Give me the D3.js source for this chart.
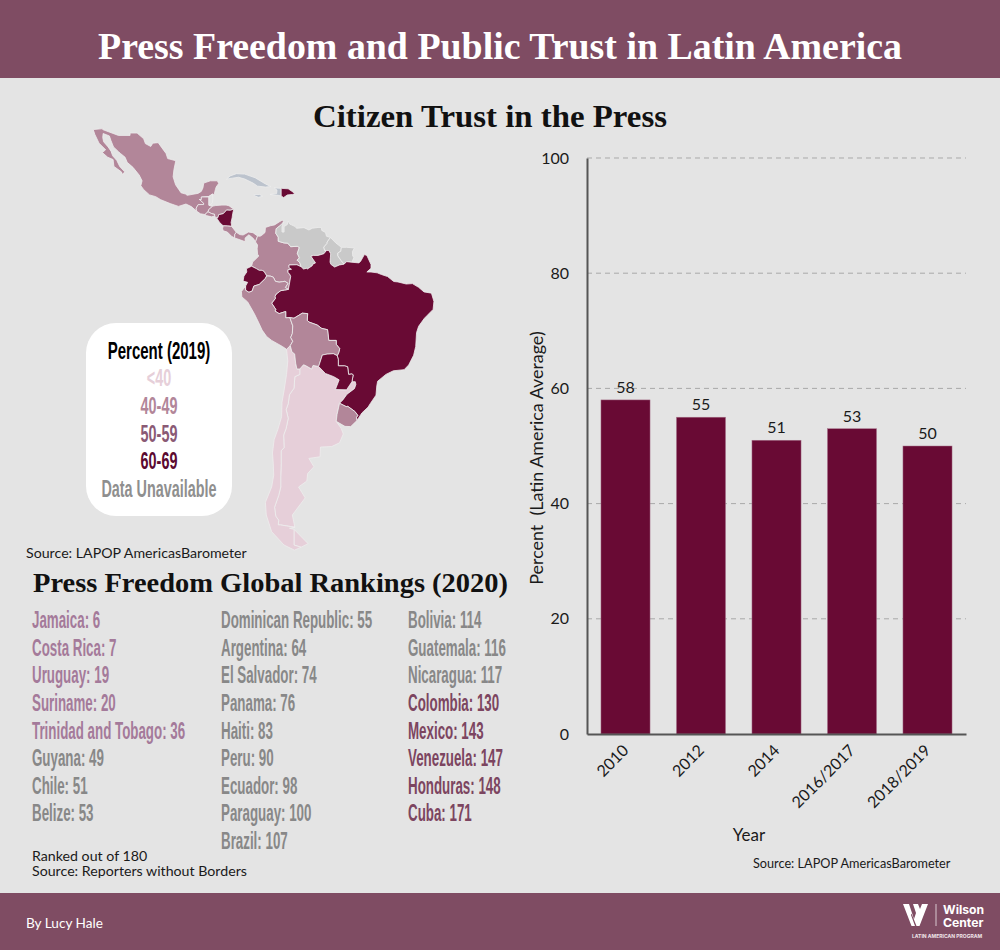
<!DOCTYPE html>
<html>
<head>
<meta charset="utf-8">
<script src="https://cdnjs.cloudflare.com/ajax/libs/d3/7.8.5/d3.min.js"></script>
<style>
  body { margin: 0; background: #e4e4e4; }
  svg { display: block; }
  text { font-family: Lato, sans-serif; fill: #1a1a1a; white-space: pre; }
  .serif { font-family: "Liberation Serif", serif; font-weight: 700; }
  .cond { font-family: "Liberation Sans", sans-serif; font-weight: 700; }
  .axis text { font-family: Lato, sans-serif; font-size: 16px; fill: #1a1a1a; }
</style>
</head>
<body>
<div id="chart"></div>
<script>
// bar chart values
const years = ["2010", "2012", "2014", "2016/2017", "2018/2019"];
const trust = [58, 55, 51, 53, 50];
const yTicks = [0, 20, 40, 60, 80, 100];

// press freedom rankings, one list per column
const rankNames1 = ["Jamaica", "Costa Rica", "Uruguay", "Suriname", "Trinidad and Tobago", "Guyana", "Chile", "Belize"];
const rankValues1 = [6, 7, 19, 20, 36, 49, 51, 53];
const rankNames2 = ["Dominican Republic", "Argentina", "El Salvador", "Panama", "Haiti", "Peru", "Ecuador", "Paraguay", "Brazil"];
const rankValues2 = [55, 64, 74, 76, 83, 90, 98, 100, 107];
const rankNames3 = ["Bolivia", "Guatemala", "Nicaragua", "Colombia", "Mexico", "Venezuela", "Honduras", "Cuba"];
const rankValues3 = [114, 116, 117, 130, 143, 147, 148, 171];

// legend
const legendLabels = ["<40", "40-49", "50-59", "60-69", "Data Unavailable"];

// country outlines, lon/lat
const mexico = [[-117.1,32.5],[-114.7,32.7],[-114.8,32.5],[-111,31.3],[-108.2,31.3],[-108.2,31.8],[-106.5,31.8],[-104.9,30.6],[-104.5,29.6],[-103.2,29],[-102.7,29.7],[-101.4,29.8],[-100.5,28.7],[-99.5,27.5],[-99.1,26.4],[-97.15,25.95],[-97.6,24],[-97.8,22.4],[-97.2,20.6],[-96.4,19.5],[-95.9,18.8],[-94.8,18.5],[-94.4,18.2],[-93,18.45],[-91.8,18.65],[-91,19.1],[-90.6,19.9],[-90.4,21],[-88.8,21.5],[-87.1,21.5],[-86.8,20.9],[-87.4,20.1],[-87.6,19.5],[-87.9,18.3],[-88.3,18.5],[-89.15,17.95],[-90.98,17.82],[-90.98,17.25],[-91.45,17.25],[-90.43,16.4],[-90.43,16.08],[-91.73,16.07],[-92.23,15.25],[-92.15,14.55],[-93.4,15.6],[-94.7,16.2],[-96.5,15.65],[-98.5,16.3],[-100.8,17.2],[-102,17.9],[-103.5,18.3],[-104.9,19.5],[-105.6,20.4],[-105.3,21.5],[-106,22.8],[-107.5,24.5],[-108.9,25.6],[-109.4,26.7],[-110.5,27.5],[-111,27.9],[-112.2,28.9],[-112.8,30.2],[-113.2,31.2],[-114.7,31.7],[-114.8,30.9],[-114.6,30],[-113.5,28.9],[-112.8,28],[-112.4,27],[-111.4,26],[-110.7,24.7],[-109.5,23.5],[-110,22.9],[-110.3,23.5],[-112.1,24.7],[-112.3,26.2],[-113.6,26.7],[-114.9,27.7],[-114.1,28.3],[-115.7,29.7],[-116.7,31.5]];
const guatemala = [[-92.15,14.55],[-92.23,15.25],[-91.73,16.07],[-90.43,16.08],[-90.43,16.4],[-91.45,17.25],[-90.98,17.25],[-90.98,17.82],[-89.15,17.82],[-89.15,15.9],[-88.6,15.7],[-88.2,15.72],[-89.2,14.9],[-89.35,14.42],[-89.6,14.2],[-90.1,13.75],[-91.2,13.92]];
const belize = [[-89.15,17.95],[-88.3,18.5],[-88.2,17.5],[-88.3,16.5],[-88.9,15.9],[-89.15,15.9]];
const elSalvador = [[-90.1,13.75],[-89.6,14.2],[-89.35,14.42],[-88.8,14.15],[-88.5,13.98],[-87.8,13.85],[-87.75,13.4],[-88.5,13.2],[-89.8,13.5]];
const honduras = [[-89.35,14.42],[-89.2,14.9],[-88.2,15.72],[-87.5,15.85],[-86,15.95],[-85,15.95],[-84.3,15.8],[-83.15,15],[-84,14.75],[-84.9,14.8],[-85.1,14.55],[-85.7,13.95],[-86.5,13.78],[-86.75,13.75],[-87,13],[-87.5,13],[-87.75,13.4],[-87.8,13.85],[-88.5,13.98],[-88.8,14.15]];
const nicaragua = [[-87.3,12.95],[-87,13],[-86.75,13.75],[-86.5,13.78],[-85.7,13.95],[-85.1,14.55],[-84.9,14.8],[-84,14.75],[-83.15,15],[-83.4,14],[-83.55,13],[-83.8,11.9],[-83.65,10.95],[-84.7,11.05],[-85.7,11.08],[-86.5,11.8]];
const costaRica = [[-85.7,11.08],[-84.7,11.05],[-83.65,10.95],[-82.55,9.55],[-82.9,9.05],[-82.95,8.2],[-83.7,8.6],[-84.7,9.6],[-85.7,9.9],[-85.85,10.4]];
const panama = [[-82.55,9.55],[-81.7,9],[-80.9,8.9],[-79.6,9.6],[-78.5,9.45],[-77.4,8.65],[-77.9,7.25],[-78.4,8.05],[-79.5,8.95],[-80.4,8.2],[-80.4,7.3],[-81.5,7.7],[-82.95,8.2],[-82.9,9.05]];
const colombia = [[-77.4,8.65],[-76.8,8.6],[-76.3,8.9],[-75.6,9.5],[-75.5,10.7],[-74.3,11.1],[-73.3,11.3],[-72.2,12],[-71.4,12.45],[-71.1,12],[-71.3,11.75],[-72,11.1],[-72.9,10.4],[-73,9.3],[-72.4,8.4],[-72.4,7.4],[-71,7],[-70.1,6.95],[-69.4,6.1],[-67.8,6.2],[-67.3,5.9],[-67.8,4.5],[-67.3,3.4],[-67.85,2.85],[-67.2,2.25],[-66.87,1.25],[-67.9,1.75],[-69.8,1.7],[-69.8,1.05],[-69.2,0.65],[-70.05,0.55],[-70.05,-0.15],[-69.6,-0.55],[-69.4,-1.1],[-69.95,-4.2],[-70.7,-3.75],[-70.05,-2.75],[-70.8,-2.25],[-71.4,-2.35],[-72.2,-2.45],[-73.1,-2.25],[-73.6,-1.25],[-74.3,-1],[-75.2,-0.95],[-75.8,0.08],[-76.3,0.4],[-77,0.4],[-77.7,0.82],[-78.85,1.4],[-78.6,2.4],[-77.1,3.85],[-77.4,4.3],[-77.5,5.6],[-77.4,6.5],[-77.9,7.25]];
const venezuela = [[-71.1,12],[-71.3,11.75],[-72,11.1],[-72.9,10.4],[-73,9.3],[-72.4,8.4],[-72.4,7.4],[-71,7],[-70.1,6.95],[-69.4,6.1],[-67.8,6.2],[-67.3,5.9],[-67.8,4.5],[-67.3,3.4],[-67.85,2.85],[-67.2,2.25],[-66.87,1.25],[-66.3,0.72],[-65.55,0.9],[-65.4,0.7],[-64.2,1.5],[-64.05,1.9],[-63.4,2.2],[-64.5,3.8],[-63.9,4],[-62.8,4],[-61.4,4.4],[-60.75,5.2],[-61.2,5.2],[-61.4,6],[-60.6,6.9],[-60.6,7.2],[-59.8,8.3],[-60.75,8.6],[-61,9.5],[-61.9,10],[-62,10.7],[-62.8,10.7],[-64.2,10.5],[-65,10.1],[-66.2,10.65],[-68,10.5],[-68.3,10.9],[-69.6,11.5],[-70,12.2],[-70.2,11.4],[-71,10.9],[-71,9.6],[-71.5,9.6],[-71.5,11]];
const guyana = [[-60.75,5.2],[-61.2,5.2],[-61.4,6],[-60.6,6.9],[-60.6,7.2],[-59.8,8.3],[-58.5,7],[-57.15,5.95],[-57.3,5],[-58,4.6],[-58,3.9],[-57.25,2.8],[-56.5,1.9],[-57.6,1.7],[-58.8,1.2],[-59.7,1.85],[-59.9,2.4],[-59.8,3.6],[-59.75,4.4],[-60.2,5.2]];
const suriname = [[-57.15,5.95],[-55.9,5.95],[-54,5.8],[-54.5,4.9],[-54.4,3.8],[-54.1,3.6],[-54.6,2.35],[-55.9,2.5],[-56.5,1.9],[-57.25,2.8],[-58,3.9],[-58,4.6],[-57.3,5]];
const brazil = [[-54.6,2.35],[-52.9,2.2],[-52.5,2.6],[-51.6,4.2],[-51,4],[-50,1.8],[-50,0.9],[-51,0],[-50,0],[-48.5,-0.2],[-47.5,-0.6],[-46,-1.1],[-44.5,-2.3],[-43.5,-2.4],[-41.5,-2.9],[-40,-2.8],[-38.5,-3.7],[-37.2,-4.8],[-35.4,-5.1],[-34.8,-7.1],[-35,-9],[-36.5,-10.5],[-37.1,-11.1],[-38.5,-13],[-39,-14.5],[-39.2,-17.7],[-39.7,-19.7],[-40.9,-21.9],[-42,-22.95],[-44.6,-23.2],[-46.4,-24],[-48.4,-25.5],[-48.6,-26.5],[-48.8,-28.5],[-50.2,-30.3],[-50.7,-31],[-52.2,-32.2],[-53.4,-33.75],[-53.5,-33.1],[-53.2,-32.7],[-53.9,-31.9],[-55.6,-30.85],[-56,-30.9],[-57.6,-30.2],[-56.8,-29.5],[-55.8,-28.3],[-54,-27.1],[-53.65,-26.2],[-53.8,-25.6],[-54.6,-25.6],[-54.3,-24.1],[-54.6,-23.9],[-55.4,-24],[-55.65,-22.3],[-56.4,-22.1],[-57.9,-22.1],[-57.9,-20.7],[-58.15,-19.8],[-57.8,-19.1],[-57.55,-18.2],[-58.4,-17.2],[-58.4,-16.3],[-60.2,-16.3],[-60.5,-13.8],[-61.9,-13.5],[-63,-12.7],[-65,-12],[-65.4,-11.6],[-65.3,-10],[-66.6,-9.9],[-68.6,-11.1],[-69.6,-10.95],[-70.6,-11],[-70.6,-9.5],[-72.2,-10],[-73.2,-9.4],[-73,-9],[-74,-7.5],[-73.1,-6.4],[-73.2,-5.9],[-72.9,-5.3],[-71.8,-4.5],[-70.9,-4.35],[-69.95,-4.2],[-69.4,-1.1],[-69.6,-0.55],[-70.05,-0.15],[-70.05,0.55],[-69.2,0.65],[-69.8,1.05],[-69.8,1.7],[-67.9,1.75],[-66.87,1.25],[-66.3,0.72],[-65.55,0.9],[-65.4,0.7],[-64.2,1.5],[-64.05,1.9],[-63.4,2.2],[-64.5,3.8],[-63.9,4],[-62.8,4],[-61.4,4.4],[-60.75,5.2],[-60.2,5.2],[-59.75,4.4],[-59.8,3.6],[-59.9,2.4],[-59.7,1.85],[-58.8,1.2],[-57.6,1.7],[-56.5,1.9],[-55.9,2.5]];
const ecuador = [[-78.85,1.4],[-77.7,0.82],[-77,0.4],[-76.3,0.4],[-75.8,0.08],[-75.2,-0.95],[-75.5,-1.55],[-77,-3],[-78.3,-3.4],[-78.7,-4.6],[-79.5,-4.9],[-80.3,-4.4],[-80.3,-3.4],[-79.8,-2.5],[-80.9,-2.2],[-80.7,-1],[-80,0],[-80.1,0.8]];
const peru = [[-75.2,-0.95],[-74.3,-1],[-73.6,-1.25],[-73.1,-2.25],[-72.2,-2.45],[-71.4,-2.35],[-70.8,-2.25],[-70.05,-2.75],[-70.7,-3.75],[-69.95,-4.2],[-70.9,-4.35],[-71.8,-4.5],[-72.9,-5.3],[-73.2,-5.9],[-73.1,-6.4],[-74,-7.5],[-73,-9],[-73.2,-9.4],[-72.2,-10],[-70.6,-9.5],[-70.6,-11],[-69.6,-10.95],[-68.9,-12.9],[-69,-14.7],[-69.4,-15.6],[-68.9,-16.5],[-69.5,-17.5],[-70.4,-18.35],[-71.4,-17.7],[-74,-16.3],[-75.2,-15.4],[-76.3,-13.9],[-77.2,-12],[-78.2,-10],[-79.8,-7.2],[-81.2,-6],[-81.3,-4.7],[-80.3,-3.4],[-80.3,-4.4],[-79.5,-4.9],[-78.7,-4.6],[-78.3,-3.4],[-77,-3],[-75.5,-1.55]];
const bolivia = [[-69.6,-10.95],[-68.6,-11.1],[-66.6,-9.9],[-65.3,-10],[-65.4,-11.6],[-65,-12],[-63,-12.7],[-61.9,-13.5],[-60.5,-13.8],[-60.2,-16.3],[-58.4,-16.3],[-58.4,-17.2],[-57.55,-18.2],[-57.8,-19.1],[-58.15,-19.8],[-59.1,-19.35],[-60.6,-19.45],[-61.75,-19.65],[-62.65,-22.25],[-64,-22],[-64.35,-22.8],[-65.7,-22.1],[-66.3,-21.85],[-67.2,-22.8],[-67.9,-22.8],[-68.2,-21.5],[-68.45,-19.4],[-69.1,-18.95],[-69.5,-17.5],[-68.9,-16.5],[-69.4,-15.6],[-69,-14.7],[-68.9,-12.9]];
const paraguay = [[-54.6,-25.6],[-55.9,-27.35],[-58.6,-27.3],[-57.7,-25.2],[-59,-24.5],[-61,-23.8],[-62.65,-22.25],[-61.75,-19.65],[-60.6,-19.45],[-59.1,-19.35],[-58.15,-19.8],[-57.9,-20.7],[-57.9,-22.1],[-56.4,-22.1],[-55.65,-22.3],[-55.4,-24],[-54.6,-23.9],[-54.3,-24.1]];
const uruguay = [[-57.6,-30.2],[-56,-30.9],[-55.6,-30.85],[-53.9,-31.9],[-53.2,-32.7],[-53.5,-33.1],[-53.4,-33.75],[-54.9,-34.95],[-56.3,-34.9],[-58.4,-33.9],[-58.2,-32.5]];
const chile = [[-70.4,-18.35],[-69.5,-17.5],[-69.1,-18.95],[-68.45,-19.4],[-68.2,-21.5],[-67.9,-22.8],[-67.2,-22.8],[-67.2,-24],[-68.4,-24.5],[-68.6,-27],[-69.7,-28.4],[-70,-30.3],[-70.5,-31.5],[-70,-33.3],[-70.5,-35.3],[-71.1,-36.6],[-71,-39],[-71.7,-39.6],[-71.7,-42],[-71.8,-44],[-71.8,-46],[-72.3,-47.4],[-73.3,-49.3],[-73,-50.7],[-72.3,-51.3],[-72.4,-52],[-71.9,-52],[-68.4,-52.35],[-69.7,-52.5],[-68.6,-52.65],[-68.6,-54.9],[-66.9,-55.2],[-68.5,-55.6],[-71,-54.9],[-74,-53],[-75.3,-50.5],[-75.5,-48.5],[-74,-46],[-73.5,-44],[-73.6,-42],[-73.8,-40],[-73.4,-37.5],[-72.5,-35.5],[-71.6,-33],[-71.5,-30],[-71,-27.5],[-70.4,-24],[-70.1,-21]];
const argentina = [[-67.2,-22.8],[-66.3,-21.85],[-65.7,-22.1],[-64.35,-22.8],[-64,-22],[-62.65,-22.25],[-61,-23.8],[-59,-24.5],[-57.7,-25.2],[-58.6,-27.3],[-55.9,-27.35],[-54.6,-25.6],[-53.8,-25.6],[-53.65,-26.2],[-54,-27.1],[-55.8,-28.3],[-56.8,-29.5],[-57.6,-30.2],[-58.2,-32.5],[-58.4,-33.9],[-57.2,-35.3],[-56.7,-36.4],[-57.6,-38.1],[-59.5,-38.8],[-62.2,-38.9],[-62.3,-40.7],[-65,-41],[-63.8,-42.5],[-65.3,-43.7],[-65.5,-45],[-67.5,-46],[-65.9,-47.8],[-69,-50.5],[-68.4,-52.35],[-71.9,-52],[-72.4,-52],[-72.3,-51.3],[-73,-50.7],[-73.3,-49.3],[-72.3,-47.4],[-71.8,-46],[-71.8,-44],[-71.7,-42],[-71.7,-39.6],[-71,-39],[-71.1,-36.6],[-70.5,-35.3],[-70,-33.3],[-70.5,-31.5],[-70,-30.3],[-69.7,-28.4],[-68.6,-27],[-68.4,-24.5],[-67.2,-24]];
const tierraDelFuego = [[-68.6,-52.65],[-65.2,-54.7],[-66.9,-55.2],[-68.6,-54.9]];
const cuba = [[-84.9,21.9],[-84,22.6],[-82.5,23.1],[-80.5,23],[-78,22.2],[-75.5,20.8],[-74.2,20.2],[-75.5,20.1],[-77.4,20.3],[-78.5,21],[-80.5,21.9],[-82,22.3],[-83.5,22.1]];
const jamaica = [[-78.3,18.4],[-76.9,18.4],[-76.2,18],[-77.2,17.75],[-78.3,18.2]];
const haiti = [[-73.4,19.9],[-71.7,19.8],[-71.7,18.05],[-72.4,18.2],[-74.4,18.4],[-72.8,18.6],[-72.7,19.4]];
const dominican = [[-71.7,19.8],[-70,19.7],[-69.3,19.25],[-68.35,18.6],[-69,18.4],[-70.2,18.3],[-71.1,17.7],[-71.7,18.05]];

const countryOutlines = [argentina, tierraDelFuego, chile, mexico, guatemala, belize, elSalvador, honduras, nicaragua, costaRica, panama, colombia, venezuela, guyana, suriname, brazil, ecuador, peru, bolivia, paraguay, uruguay, cuba, jamaica, haiti, dominican];
const countryBands = ["lt40", "lt40", "lt40", "b40", "b40", "none", "b40", "b40", "b60", "b40", "b40", "b40", "na", "na", "na", "b60", "b60", "b40", "b40", "b60", "b40", "island", "island", "island", "b60"];

const mapColor = { lt40: "#e6cfd9", b40: "#b28699", b60: "#690a34", na: "#c9c9c9", none: "#e4e4e4", island: "#bcc3cd" };
const legendColors = ["#e6cfd9", "#b28699", "#8a5a75", "#5c0a30", "#8f8f8f"];
const rankColors = { light: "#a47a9a", gray: "#888888", dark: "#7c4560" };
const plum = "#7f4c63";
const barColor = "#690a34";

const svg = d3.select("#chart").append("svg")
    .attr("width", 1000)
    .attr("height", 950);

svg.append("rect").attr("width", 1000).attr("height", 950).attr("fill", "#e4e4e4");
svg.append("rect").attr("width", 1000).attr("height", 78).attr("fill", plum);
svg.append("rect").attr("y", 893).attr("width", 1000).attr("height", 57).attr("fill", plum);

svg.append("text").attr("class", "serif")
    .attr("x", 98).attr("y", 59)
    .attr("textLength", 804).attr("lengthAdjust", "spacingAndGlyphs")
    .style("font-size", "38px").style("fill", "#fff")
    .text("Press Freedom and Public Trust in Latin America");

svg.append("text").attr("class", "serif")
    .attr("x", 313).attr("y", 127)
    .attr("textLength", 354).attr("lengthAdjust", "spacingAndGlyphs")
    .style("font-size", "32px").style("fill", "#111")
    .text("Citizen Trust in the Press");

svg.append("text").attr("class", "serif")
    .attr("x", 33).attr("y", 592)
    .attr("textLength", 475).attr("lengthAdjust", "spacingAndGlyphs")
    .style("font-size", "27px").style("fill", "#111")
    .text("Press Freedom Global Rankings (2020)");

// map
const projection = d3.geoMercator().scale(237.2).translate([578, 272]);
const outline = d3.line().x(d => projection(d)[0]).y(d => projection(d)[1]);

svg.append("g").selectAll("path")
    .data(countryOutlines)
    .join("path")
    .attr("d", d => outline(d) + "Z")
    .attr("fill", (d, i) => mapColor[countryBands[i]])
    .attr("stroke", "#eeeeee")
    .attr("stroke-width", 0.8)
    .attr("stroke-linejoin", "round");

// legend box
svg.append("rect")
    .attr("x", 86).attr("y", 323)
    .attr("width", 146).attr("height", 193)
    .attr("rx", 30)
    .attr("fill", "#fff");

// no condensed face installed, so squeeze the sans horizontally
function condText(x, y, size, squeeze, color, str, anchor) {
    return svg.append("text").attr("class", "cond")
        .attr("transform", `translate(${x},${y}) scale(${squeeze},1)`)
        .attr("text-anchor", anchor || "start")
        .style("font-size", size + "px")
        .style("fill", color)
        .text(str);
}

condText(159, 359, 24, 0.625, "#000", "Percent (2019)", "middle");
const legendY = d3.scalePoint().domain(legendLabels).range([386, 497]);
legendLabels.forEach((label, i) => condText(159, legendY(label), 24, 0.6, legendColors[i], label, "middle"));

svg.append("text").attr("x", 26).attr("y", 558).style("font-size", "14.2px").text("Source: LAPOP AmericasBarometer");

// rankings
const rowY = d3.scaleLinear().domain([0, 8]).range([628, 849]);
function rankColumn(names, values, x, colorFor) {
    names.forEach((name, i) => condText(x, rowY(i), 23, 0.58, colorFor(i), `${name}: ${values[i]}`));
}
rankColumn(rankNames1, rankValues1, 32, i => i < 5 ? rankColors.light : rankColors.gray);
rankColumn(rankNames2, rankValues2, 221, () => rankColors.gray);
rankColumn(rankNames3, rankValues3, 408, i => i < 3 ? rankColors.gray : rankColors.dark);

svg.append("text").attr("x", 32).attr("y", 861).style("font-size", "14.2px").text("Ranked out of 180");
svg.append("text").attr("x", 32).attr("y", 875.5).style("font-size", "14.2px").text("Source: Reporters without Borders");

// bar chart
const x = d3.scaleBand().domain(years).range([587, 966]).paddingInner(0.35).paddingOuter(0.185);
const y = d3.scaleLinear().domain([0, 100]).range([734, 158]);

svg.append("g").selectAll("line")
    .data(yTicks.filter(d => d > 0))
    .join("line")
    .attr("x1", 587).attr("x2", 966)
    .attr("y1", d => y(d)).attr("y2", d => y(d))
    .attr("stroke", "#a9a9a9")
    .attr("stroke-dasharray", "5,4");

svg.append("g").selectAll("rect")
    .data(years)
    .join("rect")
    .attr("x", d => x(d))
    .attr("y", (d, i) => y(trust[i]))
    .attr("width", x.bandwidth())
    .attr("height", (d, i) => y(0) - y(trust[i]))
    .attr("fill", barColor)
    .attr("stroke", "#a8758d")
    .attr("stroke-width", 0.5);

svg.append("g").selectAll("text")
    .data(years)
    .join("text")
    .attr("x", d => x(d) + x.bandwidth() / 2)
    .attr("y", (d, i) => y(trust[i]) - 7)
    .attr("text-anchor", "middle")
    .style("font-size", "16px")
    .text((d, i) => trust[i]);

const yAxis = svg.append("g").attr("class", "axis")
    .attr("transform", "translate(587,0)")
    .call(d3.axisLeft(y).tickValues(yTicks).tickSize(0).tickPadding(18));
yAxis.select(".domain").attr("stroke", "#555").attr("stroke-width", 2);

const xAxis = svg.append("g").attr("class", "axis")
    .attr("transform", "translate(0,734)")
    .call(d3.axisBottom(x).tickSize(0));
xAxis.select(".domain").attr("stroke", "#555").attr("stroke-width", 2);
xAxis.selectAll("text")
    .attr("text-anchor", "end")
    .attr("dx", "4")
    .attr("dy", "16")
    .attr("transform", "translate(-10,9) rotate(-45)")
    .attr("x", 0).attr("y", 0)
    .style("font-size", "16px");

svg.append("text")
    .attr("transform", "translate(543,458) rotate(-90)")
    .attr("text-anchor", "middle")
    .style("font-size", "17.9px")
    .text("Percent  (Latin America Average)");

svg.append("text").attr("x", 749).attr("y", 841).attr("text-anchor", "middle").style("font-size", "17px").text("Year");
svg.append("text").attr("x", 753).attr("y", 867.5).style("font-size", "12.7px").text("Source: LAPOP AmericasBarometer");

// footer
svg.append("text").attr("x", 26).attr("y", 928).style("font-size", "13.6px").style("fill", "#fff").text("By Lucy Hale");

const logo = svg.append("g").attr("transform", "translate(903,904)");
logo.append("path")
    .attr("fill", "#fff")
    .attr("d", "M0,0H6L11,15L13,9L10,0H15L17,5L19,0H25L16.5,22H13.5L8.5,9.5L8,11L12,22H8.5Z");
logo.append("line").attr("x1", 33).attr("x2", 33).attr("y1", 0).attr("y2", 22).attr("stroke", "#d9c8d0");
svg.append("text").attr("x", 943).attr("y", 914).style("font-family", "Inter, sans-serif").style("font-weight", 700).style("font-size", "12.2px").style("fill", "#fff").text("Wilson");
svg.append("text").attr("x", 943).attr("y", 927).style("font-family", "Inter, sans-serif").style("font-weight", 700).style("font-size", "12.2px").style("fill", "#fff").text("Center");
svg.append("text").attr("x", 912).attr("y", 938).style("font-family", "Inter, sans-serif").style("font-weight", 700).style("font-size", "5px").style("fill", "#f0e6ea").text("LATIN AMERICAN PROGRAM");
</script>
</body>
</html>
